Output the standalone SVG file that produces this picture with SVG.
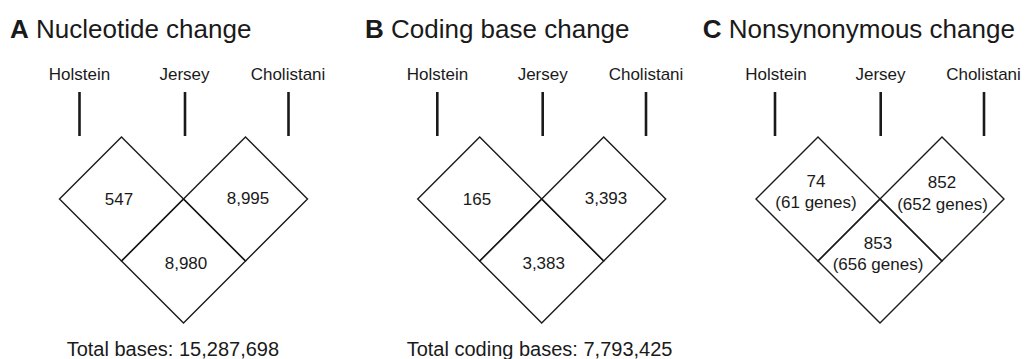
<svg xmlns="http://www.w3.org/2000/svg" width="1025" height="359" viewBox="0 0 1025 359">
  <style>
    text { font-family: "Liberation Sans", Arial, sans-serif; fill: #1a1a1a; }
    .title { font-size: 26px; }
    .title .b { font-weight: bold; }
    .lab { font-size: 17px; text-anchor: middle; }
    .num { font-size: 17px; text-anchor: middle; }
    .tot { font-size: 20px; }
    .dia { fill: none; stroke: #1a1a1a; stroke-width: 1.4; stroke-linejoin: miter; }
    .bar { stroke: #1a1a1a; stroke-width: 2.6; }
  </style>
  <defs>
    <polygon id="dm" points="0,-62 62,0 0,62 -62,0"/>
  </defs>

  <!-- Panel A -->
  <g id="panelA">
    <text id="titleA" class="title" x="10" y="38"><tspan class="b">A</tspan> Nucleotide change</text>
    <g id="A-holstein"><text class="lab" x="79.5" y="80">Holstein</text></g>
    <g id="A-jersey"><text class="lab" x="184.5" y="80">Jersey</text></g>
    <g id="A-cholistani"><text class="lab" x="288" y="80">Cholistani</text></g>
    <g id="A-left"><use href="#dm" class="dia" x="121.5" y="199"/><text class="num" x="119" y="205">547</text></g>
    <g id="A-right"><use href="#dm" class="dia" x="245.5" y="199"/><text class="num" x="248" y="204">8,995</text></g>
    <g id="A-bottom"><use href="#dm" class="dia" x="183.5" y="261"/><text class="num" x="186" y="268.5">8,980</text></g>
    <text id="totalA" class="tot" x="66.7" y="356">Total bases: 15,287,698</text>
  </g>

  <!-- Panel B -->
  <g id="panelB">
    <text id="titleB" class="title" x="365" y="38"><tspan class="b">B</tspan> Coding base change</text>
    <g id="B-holstein"><text class="lab" x="437.5" y="80">Holstein</text></g>
    <g id="B-jersey"><text class="lab" x="542.7" y="80">Jersey</text></g>
    <g id="B-cholistani"><text class="lab" x="646" y="80">Cholistani</text></g>
    <g id="B-left"><use href="#dm" class="dia" x="479.7" y="199"/><text class="num" x="477" y="205">165</text></g>
    <g id="B-right"><use href="#dm" class="dia" x="603.7" y="199"/><text class="num" x="606" y="204">3,393</text></g>
    <g id="B-bottom"><use href="#dm" class="dia" x="541.7" y="261"/><text class="num" x="543.7" y="268.5">3,383</text></g>
    <text id="totalB" class="tot" x="406.7" y="356">Total coding bases: 7,793,425</text>
  </g>

  <!-- Panel C -->
  <g id="panelC">
    <text id="titleC" class="title" x="702.7" y="38"><tspan class="b">C</tspan> Nonsynonymous change</text>
    <g id="C-holstein"><text class="lab" x="776" y="80">Holstein</text></g>
    <g id="C-jersey"><text class="lab" x="880.5" y="80">Jersey</text></g>
    <g id="C-cholistani"><text class="lab" x="983.5" y="80">Cholistani</text></g>
    <g id="C-left"><use href="#dm" class="dia" x="818" y="199"/><text class="num" x="816" y="187">74</text><text class="num" x="816" y="207.5">(61 genes)</text></g>
    <g id="C-right"><use href="#dm" class="dia" x="942" y="199"/><text class="num" x="942" y="188">852</text><text class="num" x="942.5" y="210">(652 genes)</text></g>
    <g id="C-bottom"><use href="#dm" class="dia" x="880" y="261"/><text class="num" x="878" y="249">853</text><text class="num" x="878" y="270">(656 genes)</text></g>
  </g>

  <!-- Connectors: label bars -->
  <g id="connectors">
    <line class="bar" x1="79.5" y1="92" x2="79.5" y2="136"/>
    <line class="bar" x1="185" y1="92" x2="185" y2="136"/>
    <line class="bar" x1="288.5" y1="92" x2="288.5" y2="136"/>
    <line class="bar" x1="437.3" y1="92" x2="437.3" y2="136"/>
    <line class="bar" x1="542.7" y1="92" x2="542.7" y2="136"/>
    <line class="bar" x1="646" y1="92" x2="646" y2="136"/>
    <line class="bar" x1="775" y1="92" x2="775" y2="136"/>
    <line class="bar" x1="880.7" y1="92" x2="880.7" y2="136"/>
    <line class="bar" x1="984" y1="92" x2="984" y2="136"/>
  </g>
</svg>
